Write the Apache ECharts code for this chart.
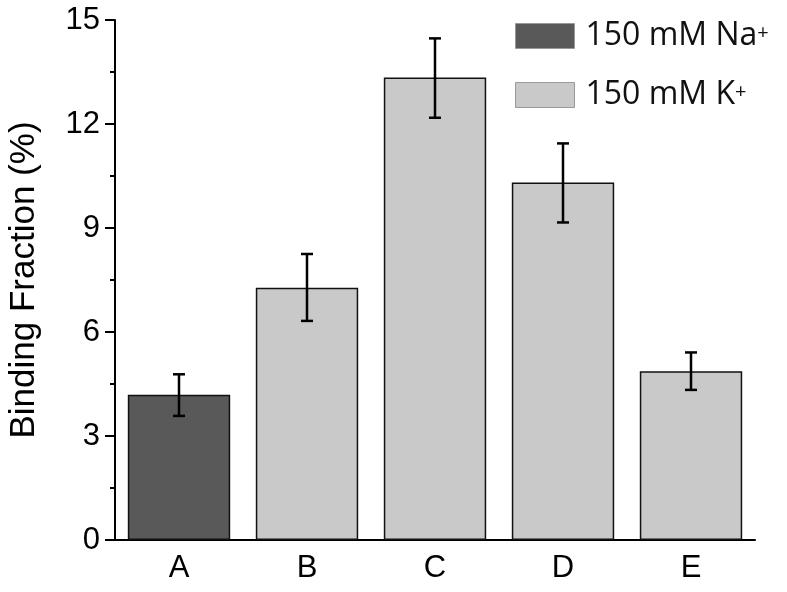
<!DOCTYPE html>
<html>
<head>
<meta charset="utf-8">
<script src="https://cdn.jsdelivr.net/npm/echarts@6/dist/echarts.min.js"></script>
<style>html,body{margin:0;padding:0;background:#fff;}#c{width:787px;height:592px;}</style>
</head>
<body>
<div id="c"></div>
<script>
var categories = ['A', 'B', 'C', 'D', 'E'];
var naValues = [4.19, null, null, null, null];
var kValues = [null, 7.28, 13.34, 10.31, 4.87];
var errLow = [3.58, 6.32, 12.18, 9.16, 4.33];
var errHigh = [4.78, 8.25, 14.47, 11.44, 5.41];
var yTicks = [0, 3, 6, 9, 12, 15];
var naName = '150 mM Na+';
var kName = '150 mM K+';

var chart = echarts.init(document.getElementById('c'), null, {renderer: 'canvas'});
var errData = categories.map(function (c, i) { return [i, errLow[i], errHigh[i]]; });

var option = {
  animation: false,
  grid: {left: 115, right: 32, top: 20, bottom: 52, containLabel: false, outerBoundsMode: 'none'},
  legend: {
    orient: 'vertical',
    left: 515, top: 20, padding: 0,
    icon: 'rect',
    itemWidth: 59, itemHeight: 25, itemGap: 27,
    data: [naName, kName],
    itemStyle: {borderColor: '#999', borderWidth: 1},
    textStyle: {
      fontFamily: 'Open Sans', fontSize: 32, color: '#111', lineHeight: 25,
      rich: {
        b: {fontFamily: 'Open Sans', fontSize: 32, color: '#111', lineHeight: 25, padding: [0, 0, 0, 6]},
        s: {fontFamily: 'Open Sans', fontSize: 20, color: '#111', lineHeight: 25, verticalAlign: 'top'}
      }
    },
    formatter: function (name) {
      return '{b|' + name.slice(0, -1) + '}{s|+}';
    }
  },
  xAxis: [{
    type: 'category', data: categories,
    axisLine: {lineStyle: {color: '#000', width: 2}},
    axisTick: {alignWithLabel: true, length: 10, lineStyle: {color: '#000', width: 2}},
    axisLabel: {color: '#000', fontFamily: 'Liberation Sans', fontSize: 31, margin: 13}
  }, {
    type: 'category', data: categories, position: 'bottom',
    axisLine: {show: false},
    axisTick: {length: 5, lineStyle: {color: '#000', width: 2}},
    axisLabel: {show: false}
  }],
  yAxis: {
    type: 'value', min: yTicks[0], max: yTicks[yTicks.length - 1], interval: 3,
    name: 'Binding Fraction (%)', nameLocation: 'middle', nameGap: 73,
    nameTextStyle: {color: '#000', fontFamily: 'Liberation Sans', fontSize: 35},
    axisLine: {show: true, lineStyle: {color: '#000', width: 2}},
    axisTick: {show: true, length: 10, lineStyle: {color: '#000', width: 2}},
    minorTick: {show: true, splitNumber: 2, length: 5, lineStyle: {color: '#000', width: 2}},
    splitLine: {show: false},
    axisLabel: {color: '#000', fontFamily: 'Liberation Sans', fontSize: 31, margin: 15}
  },
  series: [{
    name: naName, type: 'bar', stack: 'all', data: naValues,
    barCategoryGap: '20%',
    itemStyle: {color: '#595959', borderColor: '#111', borderWidth: 1.5}
  }, {
    name: kName, type: 'bar', stack: 'all', data: kValues,
    barCategoryGap: '20%',
    itemStyle: {color: '#c9c9c9', borderColor: '#111', borderWidth: 1.5}
  }, {
    type: 'custom', data: errData, z: 10,
    renderItem: function (params, api) {
      var x = api.value(0);
      var lo = api.coord([x, api.value(1)]);
      var hi = api.coord([x, api.value(2)]);
      var hw = 6;
      var st = {stroke: '#000', lineWidth: 2.5};
      return {type: 'group', children: [
        {type: 'line', shape: {x1: lo[0], y1: lo[1], x2: hi[0], y2: hi[1]}, style: st},
        {type: 'line', shape: {x1: lo[0] - hw, y1: lo[1], x2: lo[0] + hw, y2: lo[1]}, style: st},
        {type: 'line', shape: {x1: hi[0] - hw, y1: hi[1], x2: hi[0] + hw, y2: hi[1]}, style: st}
      ]};
    }
  }]
};
chart.setOption(option);
</script>
</body>
</html>
